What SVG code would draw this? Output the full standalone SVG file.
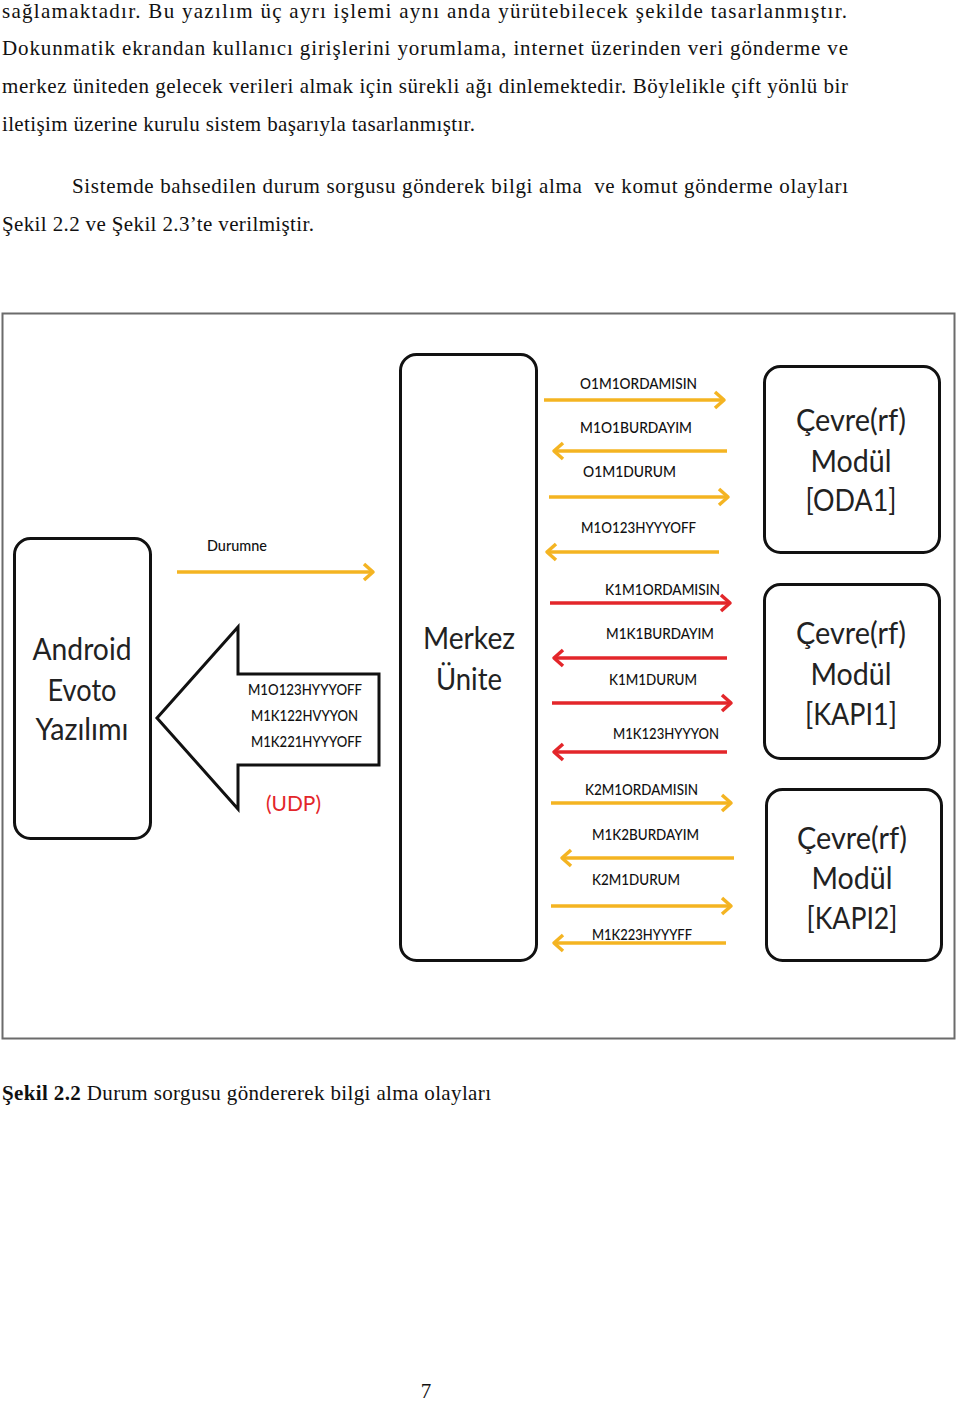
<svg xmlns="http://www.w3.org/2000/svg" width="960" height="1404" viewBox="0 0 960 1404">
<style>
.body{font-family:"Liberation Serif","Times New Roman",serif;font-size:21px;fill:#111}
.box{fill:#fff;stroke:#111;stroke-width:3}
.big{font-family:Lato,"Open Sans",sans-serif;font-size:30px;fill:#222;text-anchor:middle}
.lbl{font-family:Lato,"Open Sans",sans-serif;font-size:15px;font-weight:500;fill:#111}
.o{stroke:#F4B422;stroke-width:3.5;fill:none}
.r{stroke:#E3262A;stroke-width:3.5;fill:none}
</style>
<defs>
<marker id="ao" markerUnits="userSpaceOnUse" markerWidth="20" markerHeight="20" viewBox="-12 -10 14 20" refX="0" refY="0" orient="auto">
<path d="M-9,-8 L0,0 L-9,8" fill="none" stroke="#F4B422" stroke-width="3.5" stroke-linejoin="round"/>
</marker>
<marker id="ar" markerUnits="userSpaceOnUse" markerWidth="20" markerHeight="20" viewBox="-12 -10 14 20" refX="0" refY="0" orient="auto">
<path d="M-9,-8 L0,0 L-9,8" fill="none" stroke="#E3262A" stroke-width="3.5" stroke-linejoin="round"/>
</marker>
</defs>
<rect width="960" height="1404" fill="#fff"/>
<g id="text-body">
<text class="body" x="2" y="18" textLength="845" lengthAdjust="spacing">sağlamaktadır. Bu yazılım üç ayrı işlemi aynı anda yürütebilecek şekilde tasarlanmıştır.</text>
<text class="body" x="2" y="55" textLength="846" lengthAdjust="spacing">Dokunmatik ekrandan kullanıcı girişlerini yorumlama, internet üzerinden veri gönderme ve</text>
<text class="body" x="2" y="93" textLength="846" lengthAdjust="spacing">merkez üniteden gelecek verileri almak için sürekli ağı dinlemektedir. Böylelikle çift yönlü bir</text>
<text class="body" x="2" y="131" textLength="473" lengthAdjust="spacing">iletişim üzerine kurulu sistem başarıyla tasarlanmıştır.</text>
<text class="body" x="72" y="193" textLength="776" lengthAdjust="spacing" style="white-space:pre">Sistemde bahsedilen durum sorgusu gönderek bilgi alma  ve komut gönderme olayları</text>
<text class="body" x="2" y="231" textLength="312" lengthAdjust="spacing">Şekil 2.2 ve Şekil 2.3’te verilmiştir.</text>
<text class="body" x="2" y="1100" textLength="489" lengthAdjust="spacing"><tspan font-weight="bold">Şekil 2.2</tspan> Durum sorgusu göndererek bilgi alma olayları</text>
<text class="body" x="426" y="1398" text-anchor="middle">7</text>
</g>
<rect id="frame" x="2.5" y="313.5" width="952" height="725" fill="#fff" stroke="#6b6b6b" stroke-width="2"/>
<g id="android">
<rect class="box" x="14.5" y="538.5" width="136" height="300" rx="16"/>
<text class="big" x="82" y="660" textLength="99" lengthAdjust="spacingAndGlyphs">Android</text>
<text class="big" x="82" y="701" textLength="69" lengthAdjust="spacingAndGlyphs">Evoto</text>
<text class="big" x="82" y="740" textLength="93" lengthAdjust="spacingAndGlyphs">Yazılımı</text>
</g>
<g id="merkez">
<rect class="box" x="400.5" y="354.5" width="136" height="606" rx="16"/>
<text class="big" x="469" y="649" textLength="92" lengthAdjust="spacingAndGlyphs">Merkez</text>
<text class="big" x="469" y="690" textLength="66" lengthAdjust="spacingAndGlyphs">Ünite</text>
</g>
<g id="oda1">
<rect class="box" x="764.5" y="366.5" width="175" height="186" rx="16"/>
<text class="big" x="851" y="431" textLength="110" lengthAdjust="spacingAndGlyphs">Çevre(rf)</text>
<text class="big" x="851" y="472" textLength="81" lengthAdjust="spacingAndGlyphs">Modül</text>
<text class="big" x="851" y="511" textLength="91" lengthAdjust="spacingAndGlyphs">[ODA1]</text>
</g>
<g id="kapi1">
<rect class="box" x="764.5" y="584.5" width="175" height="174" rx="16"/>
<text class="big" x="851" y="644" textLength="110" lengthAdjust="spacingAndGlyphs">Çevre(rf)</text>
<text class="big" x="851" y="685" textLength="81" lengthAdjust="spacingAndGlyphs">Modül</text>
<text class="big" x="851" y="725" textLength="92" lengthAdjust="spacingAndGlyphs">[KAPI1]</text>
</g>
<g id="kapi2">
<rect class="box" x="766.5" y="789.5" width="175" height="171" rx="16"/>
<text class="big" x="852" y="849" textLength="110" lengthAdjust="spacingAndGlyphs">Çevre(rf)</text>
<text class="big" x="852" y="889" textLength="81" lengthAdjust="spacingAndGlyphs">Modül</text>
<text class="big" x="852" y="929" textLength="91" lengthAdjust="spacingAndGlyphs">[KAPI2]</text>
</g>
<g id="udp-arrow">
<path d="M157,718 L238,627 L238,674 L379,674 L379,765 L238,765 L238,809 Z" fill="#fff" stroke="#111" stroke-width="3" stroke-linejoin="miter"/>
<text class="lbl" x="248" y="695" textLength="114" lengthAdjust="spacingAndGlyphs">M1O123HYYYOFF</text>
<text class="lbl" x="251" y="721" textLength="107" lengthAdjust="spacingAndGlyphs">M1K122HVYYON</text>
<text class="lbl" x="251" y="747" textLength="111" lengthAdjust="spacingAndGlyphs">M1K221HYYYOFF</text>
<text x="266" y="811" font-family="Lato,'Open Sans',sans-serif" font-size="22" fill="#E3262A" textLength="55" lengthAdjust="spacingAndGlyphs">(UDP)</text>
</g>
<g id="connectors">
<line class="o" x1="177" y1="572" x2="373" y2="572" marker-end="url(#ao)"/>
<line class="o" x1="544" y1="400" x2="724" y2="400" marker-end="url(#ao)"/>
<line class="o" x1="727" y1="451" x2="554" y2="451" marker-end="url(#ao)"/>
<line class="o" x1="549" y1="497" x2="728" y2="497" marker-end="url(#ao)"/>
<line class="o" x1="719" y1="552" x2="547" y2="552" marker-end="url(#ao)"/>
<line class="r" x1="550" y1="603" x2="730" y2="603" marker-end="url(#ar)"/>
<line class="r" x1="727" y1="658" x2="554" y2="658" marker-end="url(#ar)"/>
<line class="r" x1="552" y1="703" x2="731" y2="703" marker-end="url(#ar)"/>
<line class="r" x1="727" y1="752" x2="554" y2="752" marker-end="url(#ar)"/>
<line class="o" x1="551" y1="803" x2="731" y2="803" marker-end="url(#ao)"/>
<line class="o" x1="734" y1="858" x2="562" y2="858" marker-end="url(#ao)"/>
<line class="o" x1="551" y1="906" x2="731" y2="906" marker-end="url(#ao)"/>
<line class="o" x1="726" y1="943" x2="554" y2="943" marker-end="url(#ao)"/>
</g>
<g id="labels">
<text class="lbl" x="580" y="389" textLength="117" lengthAdjust="spacingAndGlyphs">O1M1ORDAMISIN</text>
<text class="lbl" x="580" y="433" textLength="112" lengthAdjust="spacingAndGlyphs">M1O1BURDAYIM</text>
<text class="lbl" x="583" y="477" textLength="93" lengthAdjust="spacingAndGlyphs">O1M1DURUM</text>
<text class="lbl" x="581" y="533" textLength="115" lengthAdjust="spacingAndGlyphs">M1O123HYYYOFF</text>
<text class="lbl" x="605" y="595" textLength="115" lengthAdjust="spacingAndGlyphs">K1M1ORDAMISIN</text>
<text class="lbl" x="606" y="639" textLength="108" lengthAdjust="spacingAndGlyphs">M1K1BURDAYIM</text>
<text class="lbl" x="609" y="685" textLength="88" lengthAdjust="spacingAndGlyphs">K1M1DURUM</text>
<text class="lbl" x="613" y="739" textLength="106" lengthAdjust="spacingAndGlyphs">M1K123HYYYON</text>
<text class="lbl" x="585" y="795" textLength="113" lengthAdjust="spacingAndGlyphs">K2M1ORDAMISIN</text>
<text class="lbl" x="592" y="840" textLength="107" lengthAdjust="spacingAndGlyphs">M1K2BURDAYIM</text>
<text class="lbl" x="592" y="885" textLength="88" lengthAdjust="spacingAndGlyphs">K2M1DURUM</text>
<text class="lbl" x="592" y="940" textLength="100" lengthAdjust="spacingAndGlyphs">M1K223HYYYFF</text>
<text class="lbl" x="207" y="551" textLength="60" lengthAdjust="spacingAndGlyphs">Durumne</text>
</g>
</svg>
